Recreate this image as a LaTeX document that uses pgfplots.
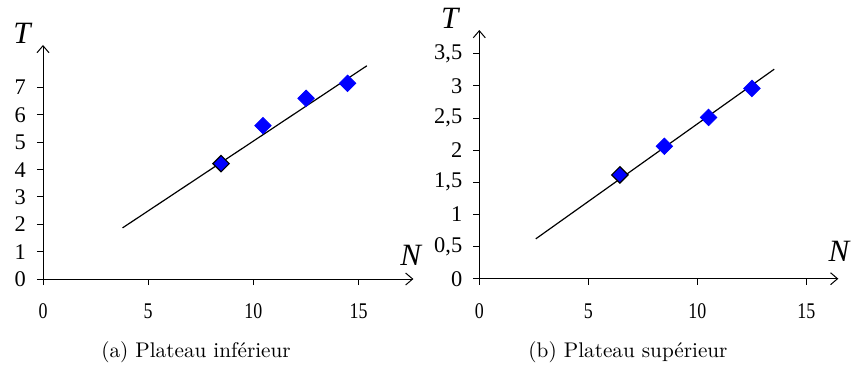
\documentclass[border=0pt]{standalone}
\usepackage{pgfplots}
\pgfplotsset{compat=1.18}
\usetikzlibrary{arrows.meta}
\usepackage{fontspec}
\newfontfamily\timesfont{Liberation Serif}
\begin{document}
\begin{tikzpicture}
\useasboundingbox (0,0) rectangle (426pt,186pt);
\pgfplotsset{
  myaxis/.style={
    scale only axis, axis lines=left, tick align=outside,
    axis line style={line width=0.5pt, -{Straight Barb[length=3.5pt, width=6pt, line width=0.5pt]}},
    major tick length=3pt, tick style={line width=0.5pt, black},
    xmin=0, ymin=0,
    xtick={0,5,10,15},
    /pgf/number format/assume math mode=true,
    /pgf/number format/use comma,
    tick label style={font=\fontsize{11.2}{12}\timesfont},
    xticklabel={\scalebox{0.8}[1]{\pgfmathprintnumber{\tick}}},
    xticklabel style={anchor=north, yshift=-6pt},
    yticklabel style={anchor=east, xshift=-2pt},
    label style={font=\fontsize{15.5}{16}\timesfont\itshape},
    clip=false,
  },
  datpt/.style={only marks, mark=square*, mark size=2.9pt, mark options={rotate=45, fill=blue, draw=blue}},
}
\begin{axis}[myaxis, at={(21.5pt,46.5pt)}, anchor=south west,
  width=185.2pt, height=117pt, xmax=17.6, ymax=8.56,
  ytick={0,1,...,7},
  xlabel={N}, ylabel={T},
  xlabel style={at={(rel axis cs:0.993,0.103)}, anchor=center},
  ylabel style={at={(rel axis cs:-0.057,1.051)}, anchor=center, rotate=-90},
]
\addplot[black, line width=0.6pt] coordinates {(3.78,1.87) (15.39,7.80)};
\addplot[datpt] coordinates {(10.45,5.61) (12.5,6.61) (14.47,7.16)};
\addplot[datpt, mark options={rotate=45, fill=blue, draw=black, line width=0.6pt}] coordinates {(8.46,4.22)};
\end{axis}
\begin{axis}[myaxis, at={(239.65pt,46.65pt)}, anchor=south west,
  width=179.5pt, height=124.35pt, xmax=16.47, ymax=3.87,
  ytick={0,0.5,...,3.5},
  xlabel={N}, ylabel={T},
  xlabel style={at={(rel axis cs:1.002,0.111)}, anchor=center},
  ylabel style={at={(rel axis cs:-0.082,1.048)}, anchor=center, rotate=-90},
]
\addplot[black, line width=0.6pt] coordinates {(2.59,0.62) (13.53,3.26)};
\addplot[datpt] coordinates {(8.49,2.06) (10.52,2.51) (12.51,2.96)};
\addplot[datpt, mark options={rotate=45, fill=blue, draw=black, line width=0.6pt}] coordinates {(6.45,1.615)};
\end{axis}
\node[font=\fontsize{10.6}{12}\selectfont] at (98pt,10pt) {(a) Plateau inférieur};
\node[font=\fontsize{10.6}{12}\selectfont] at (314pt,10pt) {(b) Plateau supérieur};
\end{tikzpicture}
\end{document}
